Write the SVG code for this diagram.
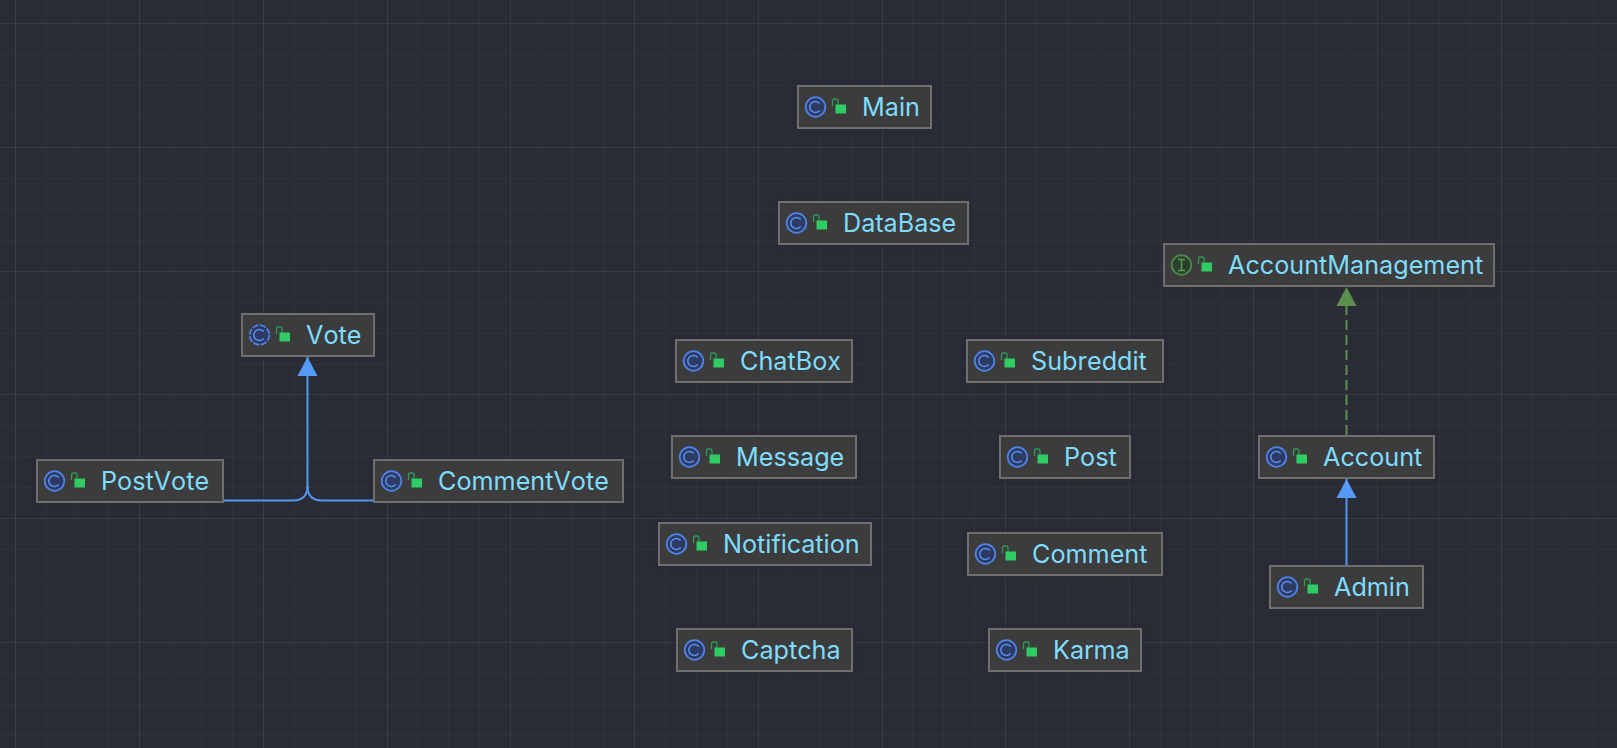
<svg xmlns="http://www.w3.org/2000/svg" width="1617" height="748" viewBox="0 0 1617 748">
<style>
.bg{fill:#292b36}
.minor{stroke:#313233;stroke-width:1;fill:none}
.major{stroke:#3b3c3e;stroke-width:1;fill:none}
.box{fill:#3c3c3c;stroke:#6f6f6f;stroke-width:2;filter:drop-shadow(0 1px 2px #292b36)}
.label{font-family:Inter,"Liberation Sans",sans-serif;font-size:25.2px;fill:#7fdcff;font-kerning:none}
.blue{stroke:#5596ee;stroke-width:2;fill:none}
.green{stroke:#5c8e4e;stroke-width:2;fill:none;stroke-dasharray:10 5}
</style>
<defs>
<marker id="headBlue" markerUnits="userSpaceOnUse" markerWidth="22" markerHeight="22" refX="19" refY="10.500" orient="auto"><path d="M0 0.500L19 10.500L0 20.500Z" fill="#559bf5"/></marker>
<marker id="headGreen" markerUnits="userSpaceOnUse" markerWidth="22" markerHeight="22" refX="19" refY="10.500" orient="auto"><path d="M0 0.500L19 10.500L0 20.500Z" fill="#5c8e4e"/></marker>
<g id="lock"><path d="M-6.500 -6V-11Q-6.500 -13 -4.500 -13H-3Q-1 -13 -1 -11V-7" fill="none" stroke="#2b9c5a" stroke-width="1.300"/><rect x="-3.500" y="-7.500" width="10.500" height="9" fill="#2ecc63"/></g>
<g id="classIcon"><circle r="9.800" fill="#2d3a63" stroke="#4d82e8" stroke-width="1.800"/><path d="M4.200 -3.600A5.600 5.600 0 1 0 4.200 3.600" fill="none" stroke="#5a90f0" stroke-width="1.500"/></g>
<g id="abstractIcon"><circle r="9.800" fill="#2d3a63" stroke="#4d82e8" stroke-width="1.800" stroke-dasharray="6.200 1.500"/><path d="M4.200 -3.600A5.600 5.600 0 1 0 4.200 3.600" fill="none" stroke="#5a90f0" stroke-width="1.500"/></g>
<g id="ifaceIcon"><circle r="9.800" fill="#2b3f2d" stroke="#4f8a4a" stroke-width="1.800"/><path d="M-3.500 -5.500H3.500M-3.500 5.500H3.500M0 -5.500V5.500" fill="none" stroke="#5c9a55" stroke-width="1.500"/></g>
</defs>
<rect class="bg" width="1617" height="748"/>
<g id="grid">
<path class="minor" d="M46.500 0V748M77.500 0V748M108.500 0V748M170.500 0V748M201.500 0V748M232.500 0V748M294.500 0V748M325.500 0V748M356.500 0V748M417.500 0V748M448.500 0V748M479.500 0V748M541.500 0V748M572.500 0V748M603.500 0V748M665.500 0V748M696.500 0V748M727.500 0V748M789.500 0V748M820.500 0V748M851.500 0V748M912.500 0V748M943.500 0V748M974.500 0V748M1036.500 0V748M1067.500 0V748M1098.500 0V748M1160.500 0V748M1191.500 0V748M1222.500 0V748M1284.500 0V748M1315.500 0V748M1346.500 0V748M1408.500 0V748M1439.500 0V748M1470.500 0V748M1531.500 0V748M1562.500 0V748M1593.500 0V748M0 54.500H1617M0 85.500H1617M0 116.500H1617M0 178.500H1617M0 209.500H1617M0 240.500H1617M0 302.500H1617M0 333.500H1617M0 364.500H1617M0 425.500H1617M0 456.500H1617M0 487.500H1617M0 549.500H1617M0 580.500H1617M0 611.500H1617M0 673.500H1617M0 704.500H1617M0 735.500H1617"/>
<path class="major" d="M15.500 0V748M139.500 0V748M263.500 0V748M387.500 0V748M510.500 0V748M634.500 0V748M758.500 0V748M882.500 0V748M1005.500 0V748M1129.500 0V748M1253.500 0V748M1377.500 0V748M1501.500 0V748M0 23.500H1617M0 147.500H1617M0 271.500H1617M0 394.500H1617M0 518.500H1617M0 642.500H1617"/>
</g>
<g id="nodes">
<g id="Main"><rect class="box" x="798" y="86" width="133" height="42"/><use href="#classIcon" x="815.500" y="107"/><use href="#lock" x="839" y="112"/><text class="label" x="862" y="116">Main</text></g>
<g id="DataBase"><rect class="box" x="779" y="202" width="189" height="42"/><use href="#classIcon" x="796.500" y="223"/><use href="#lock" x="820" y="228"/><text class="label" x="843" y="232">DataBase</text></g>
<g id="AccountManagement"><rect class="box" x="1164" y="244" width="330" height="42"/><use href="#ifaceIcon" x="1181.500" y="265"/><use href="#lock" x="1205" y="270"/><text class="label" x="1228" y="274">AccountManagement</text></g>
<g id="Vote"><rect class="box" x="242" y="314" width="132" height="42"/><use href="#abstractIcon" x="259.500" y="335"/><use href="#lock" x="283" y="340"/><text class="label" x="306" y="344">Vote</text></g>
<g id="ChatBox"><rect class="box" x="676" y="340" width="176" height="42"/><use href="#classIcon" x="693.500" y="361"/><use href="#lock" x="717" y="366"/><text class="label" x="740" y="370">ChatBox</text></g>
<g id="Subreddit"><rect class="box" x="967" y="340" width="196" height="42"/><use href="#classIcon" x="984.500" y="361"/><use href="#lock" x="1008" y="366"/><text class="label" x="1031" y="370">Subreddit</text></g>
<g id="Message"><rect class="box" x="672" y="436" width="184" height="42"/><use href="#classIcon" x="689.500" y="457"/><use href="#lock" x="713" y="462"/><text class="label" x="736" y="466">Message</text></g>
<g id="Post"><rect class="box" x="1000" y="436" width="130" height="42"/><use href="#classIcon" x="1017.500" y="457"/><use href="#lock" x="1041" y="462"/><text class="label" x="1064" y="466">Post</text></g>
<g id="Account"><rect class="box" x="1259" y="436" width="175" height="42"/><use href="#classIcon" x="1276.500" y="457"/><use href="#lock" x="1300" y="462"/><text class="label" x="1323" y="466">Account</text></g>
<g id="PostVote"><rect class="box" x="37" y="460" width="186" height="42"/><use href="#classIcon" x="54.500" y="481"/><use href="#lock" x="78" y="486"/><text class="label" x="101" y="490">PostVote</text></g>
<g id="CommentVote"><rect class="box" x="374" y="460" width="249" height="42"/><use href="#classIcon" x="391.500" y="481"/><use href="#lock" x="415" y="486"/><text class="label" x="438" y="490">CommentVote</text></g>
<g id="Notification"><rect class="box" x="659" y="523" width="212" height="42"/><use href="#classIcon" x="676.500" y="544"/><use href="#lock" x="700" y="549"/><text class="label" x="723" y="553">Notification</text></g>
<g id="Comment"><rect class="box" x="968" y="533" width="194" height="42"/><use href="#classIcon" x="985.500" y="554"/><use href="#lock" x="1009" y="559"/><text class="label" x="1032" y="563">Comment</text></g>
<g id="Admin"><rect class="box" x="1270" y="566" width="153" height="42"/><use href="#classIcon" x="1287.500" y="587"/><use href="#lock" x="1311" y="592"/><text class="label" x="1334" y="596">Admin</text></g>
<g id="Captcha"><rect class="box" x="677" y="629" width="175" height="42"/><use href="#classIcon" x="694.500" y="650"/><use href="#lock" x="718" y="655"/><text class="label" x="741" y="659">Captcha</text></g>
<g id="Karma"><rect class="box" x="989" y="629" width="152" height="42"/><use href="#classIcon" x="1006.500" y="650"/><use href="#lock" x="1030" y="655"/><text class="label" x="1053" y="659">Karma</text></g>
</g>
<g id="connectors">
<path class="blue" marker-end="url(#headBlue)" d="M224 500.500H293Q307.500 500.500 307.500 486V357"/>
<path class="blue" d="M373 500.500H322Q307.500 500.500 307.500 486"/>
<path class="green" marker-end="url(#headGreen)" d="M1346.500 435V287"/>
<path class="blue" marker-end="url(#headBlue)" d="M1346.500 565V479"/>
</g>
</svg>
